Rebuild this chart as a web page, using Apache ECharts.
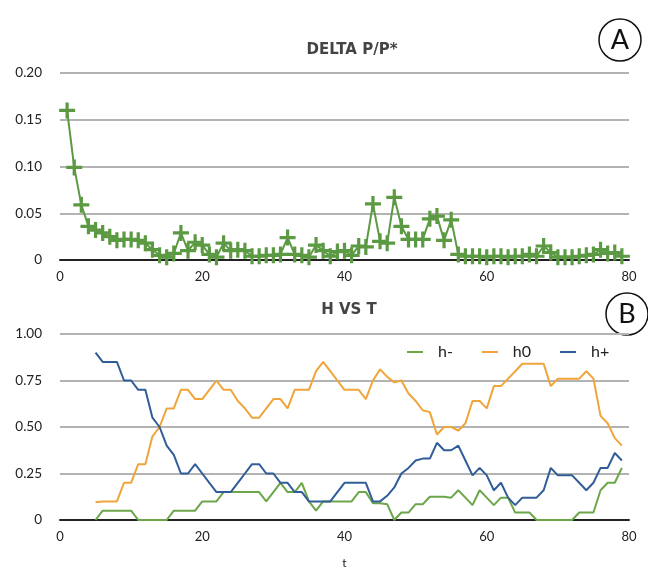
<!DOCTYPE html>
<html>
<head>
<meta charset="utf-8">
<script src="https://cdn.jsdelivr.net/npm/echarts@6/dist/echarts.min.js"></script>
<style>
  html, body { margin: 0; padding: 0; background: #fff; }
  #main { width: 648px; height: 570px; }
</style>
</head>
<body>
<div id="main"></div>
<script>
// DELTA P/P*, t = 1..79
var deltaX = [];
for (var i = 1; i <= 79; i++) deltaX.push(i);
var deltaP = [
  0.160, 0.099, 0.059, 0.036, 0.032, 0.029, 0.025, 0.021, 0.022, 0.022,
  0.021, 0.018, 0.011, 0.005, 0.003, 0.007, 0.029, 0.010, 0.019, 0.016,
  0.006, 0.003, 0.018, 0.010, 0.011, 0.010, 0.004, 0.004, 0.005, 0.005,
  0.006, 0.024, 0.006, 0.005, 0.003, 0.016, 0.010, 0.004, 0.009, 0.010,
  0.005, 0.015, 0.014, 0.060, 0.020, 0.018, 0.067, 0.036, 0.022, 0.022,
  0.022, 0.044, 0.047, 0.021, 0.043, 0.006, 0.004, 0.004, 0.004, 0.003,
  0.004, 0.004, 0.003, 0.004, 0.004, 0.006, 0.004, 0.015, 0.008, 0.003,
  0.003, 0.003, 0.004, 0.005, 0.006, 0.011, 0.007, 0.008, 0.004
];

// H vs T, t = 5..79
var hX = [];
for (var j = 5; j <= 79; j++) hX.push(j);
var hMinus = [
  0, 0.05, 0.05, 0.05, 0.05, 0.05, 0, 0, 0, 0,
  0, 0.05, 0.05, 0.05, 0.05, 0.10, 0.10, 0.10, 0.15, 0.15,
  0.15, 0.15, 0.15, 0.15, 0.10, 0.15, 0.20, 0.15, 0.15, 0.20,
  0.10, 0.05, 0.10, 0.10, 0.10, 0.10, 0.10, 0.15, 0.15, 0.09,
  0.09, 0.085, 0, 0.04, 0.04, 0.085, 0.085, 0.125, 0.125, 0.125,
  0.12, 0.16, 0.12, 0.08, 0.16, 0.12, 0.08, 0.12, 0.12, 0.04,
  0.04, 0.04, 0, 0, 0, 0, 0, 0, 0.04, 0.04,
  0.04, 0.16, 0.20, 0.20, 0.28
];
var hZero = [
  0.095, 0.10, 0.10, 0.10, 0.20, 0.20, 0.30, 0.30, 0.45, 0.50,
  0.60, 0.60, 0.70, 0.70, 0.65, 0.65, 0.70, 0.75, 0.70, 0.70,
  0.64, 0.60, 0.55, 0.55, 0.60, 0.65, 0.65, 0.60, 0.70, 0.70,
  0.70, 0.80, 0.85, 0.80, 0.75, 0.70, 0.70, 0.70, 0.65, 0.75,
  0.81, 0.77, 0.74, 0.75, 0.68, 0.64, 0.59, 0.58, 0.46, 0.50,
  0.50, 0.48, 0.52, 0.64, 0.64, 0.60, 0.72, 0.72, 0.76, 0.80,
  0.84, 0.84, 0.84, 0.84, 0.72, 0.76, 0.76, 0.76, 0.76, 0.80,
  0.76, 0.56, 0.52, 0.44, 0.40
];
var hPlus = [
  0.90, 0.85, 0.85, 0.85, 0.75, 0.75, 0.70, 0.70, 0.55, 0.50,
  0.40, 0.35, 0.25, 0.25, 0.30, 0.25, 0.20, 0.15, 0.15, 0.15,
  0.20, 0.25, 0.30, 0.30, 0.25, 0.25, 0.20, 0.20, 0.15, 0.15,
  0.10, 0.10, 0.10, 0.10, 0.15, 0.20, 0.20, 0.20, 0.20, 0.10,
  0.10, 0.13, 0.175, 0.25, 0.28, 0.32, 0.33, 0.33, 0.415, 0.375,
  0.375, 0.40, 0.32, 0.24, 0.28, 0.24, 0.16, 0.20, 0.12, 0.08,
  0.12, 0.12, 0.12, 0.16, 0.28, 0.24, 0.24, 0.24, 0.20, 0.16,
  0.20, 0.28, 0.28, 0.36, 0.32
];

var xTicks = [0, 20, 40, 60, 80];
var topTicks = [0, 0.05, 0.10, 0.15, 0.20];
var botTicks = [0, 0.25, 0.50, 0.75, 1.00];

function pairs(xs, ys) {
  return xs.map(function (x, k) { return [x, ys[k]]; });
}

var font = 'Lato, "Open Sans", sans-serif';
var titleFont = '"DejaVu Sans", sans-serif';
var plus = 'path://M4,0H6V4H10V6H6V10H4V6H0V4H4Z';

var myChart = echarts.init(document.getElementById('main'));

function xAxisFor(idx, withName) {
  return {
    gridIndex: idx, type: 'value',
    min: xTicks[0], max: xTicks[xTicks.length - 1], interval: xTicks[1] - xTicks[0],
    axisLine: { show: true, onZero: false, lineStyle: { color: '#222', width: 2 } },
    axisTick: { show: false },
    splitLine: { show: false },
    axisLabel: { color: '#222', fontSize: 13, fontFamily: font, margin: 10 },
    name: withName ? 't' : '',
    nameLocation: 'middle', nameGap: 37,
    nameTextStyle: { color: '#222', fontSize: 12, fontFamily: font }
  };
}

function yAxisFor(idx, ticks) {
  var step = ticks[1] - ticks[0];
  return {
    gridIndex: idx, type: 'value', min: 0, max: ticks[ticks.length - 1], interval: step,
    axisLine: { show: false }, axisTick: { show: false },
    splitLine: { lineStyle: { color: '#b3b3b3', width: 2 } },
    axisLabel: {
      color: '#222', fontSize: 13.5, fontFamily: font, margin: 18,
      formatter: function (v) { return v === 0 ? '0' : v.toFixed(2); }
    }
  };
}

myChart.setOption({
  animation: false,
  backgroundColor: '#fff',
  title: [
    { text: 'DELTA P/P*', left: 347, top: 38, textAlign: 'center',
      textStyle: { fontSize: 15, fontWeight: 'bold', color: '#444', fontFamily: titleFont } },
    { text: 'H VS T', left: 344, top: 298, textAlign: 'center',
      textStyle: { fontSize: 15, fontWeight: 'bold', color: '#444', fontFamily: titleFont } }
  ],
  legend: {
    left: 402, top: 339, itemGap: 29, itemWidth: 16, itemHeight: 2, icon: 'rect',
    textStyle: { fontSize: 16, color: '#222', fontFamily: font, padding: [0, 0, 0, 10] },
    data: ['h-', 'h0', 'h+']
  },
  grid: [
    { left: 60, right: 19, top: 73, height: 187 },
    { left: 60, right: 19, top: 334, height: 186 }
  ],
  xAxis: [xAxisFor(0, false), xAxisFor(1, true)],
  yAxis: [yAxisFor(0, topTicks), yAxisFor(1, botTicks)],
  graphic: [
    { type: 'circle', shape: { cx: 620, cy: 40, r: 21 }, style: { fill: '#fff', stroke: '#111', lineWidth: 1.5 } },
    { type: 'text', x: 620, y: 40, style: { text: 'A', fontSize: 27, fontFamily: font, fill: '#111', align: 'center', verticalAlign: 'middle' } },
    { type: 'circle', shape: { cx: 627, cy: 314, r: 21 }, style: { fill: '#fff', stroke: '#111', lineWidth: 1.5 } },
    { type: 'text', x: 627, y: 314, style: { text: 'B', fontSize: 27, fontFamily: font, fill: '#111', align: 'center', verticalAlign: 'middle' } }
  ],
  series: [
    {
      name: 'delta', type: 'line', xAxisIndex: 0, yAxisIndex: 0,
      data: pairs(deltaX, deltaP),
      symbol: plus, symbolSize: 16,
      itemStyle: { color: '#5b9a43' },
      lineStyle: { color: '#5b9a43', width: 2 }
    },
    {
      name: 'h-', type: 'line', xAxisIndex: 1, yAxisIndex: 1,
      data: pairs(hX, hMinus), showSymbol: false,
      itemStyle: { color: '#6ca64a' }, lineStyle: { color: '#6ca64a', width: 2 }
    },
    {
      name: 'h0', type: 'line', xAxisIndex: 1, yAxisIndex: 1,
      data: pairs(hX, hZero), showSymbol: false,
      itemStyle: { color: '#f0a53a' }, lineStyle: { color: '#f0a53a', width: 2 }
    },
    {
      name: 'h+', type: 'line', xAxisIndex: 1, yAxisIndex: 1,
      data: pairs(hX, hPlus), showSymbol: false,
      itemStyle: { color: '#305d97' }, lineStyle: { color: '#305d97', width: 2 }
    }
  ]
});
</script>
</body>
</html>
